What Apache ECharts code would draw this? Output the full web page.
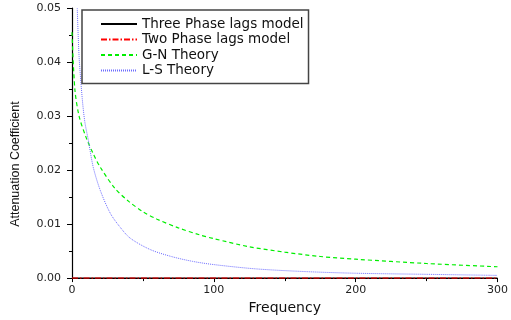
<!DOCTYPE html>
<html>
<head>
<meta charset="utf-8">
<script src="https://cdn.jsdelivr.net/npm/echarts@6/dist/echarts.min.js"></script>
<style>
  html, body { margin: 0; padding: 0; background: #fff; }
  #chart { width: 511px; height: 320px; }
</style>
</head>
<body>
<div id="chart"></div>
<script>
// values
const flatFreq = [0, 50, 100, 150, 200, 250, 300];
const threePhase = [0, 0, 0, 0, 0, 0, 0];
const twoPhase = [0, 0, 0, 0, 0, 0, 0];

const gnFreq = [0, 2, 5, 10, 15, 20, 30, 40, 50, 60, 75, 90, 100, 125, 150, 175, 200, 250, 300];
const gnValue = [0.0455, 0.035, 0.030, 0.026, 0.023, 0.0205, 0.0167, 0.0142, 0.0123, 0.0109,
  0.0093, 0.0080, 0.0073, 0.0058, 0.0048, 0.0040, 0.0035, 0.0027, 0.0021];

const lsFreq = [3.7, 5, 7.2, 9, 11.6, 15, 20, 27, 34, 41, 55, 70, 85, 100, 130, 165, 200, 250, 300];
const lsValue = [0.050, 0.041, 0.0333, 0.029, 0.0254, 0.0205, 0.0162, 0.0120, 0.0094, 0.0074,
  0.0053, 0.0040, 0.0031, 0.0025, 0.0017, 0.0012, 0.0009, 0.0007, 0.0005];

const xTicks = [0, 100, 200, 300];
const yTicks = [0, 0.01, 0.02, 0.03, 0.04, 0.05];

const zip = (xs, ys) => xs.map((x, i) => [x, ys[i]]);

const chart = echarts.init(document.getElementById('chart'));

const option = {
  animation: false,
  backgroundColor: '#fff',
  grid: { left: 72, right: 9, top: 8, bottom: 38 },
  legend: {
    orient: 'vertical',
    left: 82,
    top: 10,
    padding: [7, 5, 6, 18],
    itemWidth: 36,
    itemHeight: 14,
    itemGap: 1.5,
    borderColor: '#444',
    borderWidth: 1.5,
    itemStyle: { opacity: 0 },
    textStyle: { fontFamily: 'DejaVu Sans', fontSize: 13.5, color: '#111' },
    data: ['Three Phase lags model', 'Two Phase lags model', 'G-N Theory', 'L-S Theory']
  },
  xAxis: {
    type: 'value',
    min: xTicks[0],
    max: xTicks[xTicks.length - 1],
    interval: 100,
    name: 'Frequency',
    nameLocation: 'middle',
    nameGap: 15,
    nameTextStyle: { fontFamily: 'DejaVu Sans', fontSize: 14, color: '#111' },
    axisLine: { lineStyle: { color: '#000', width: 1.2 } },
    axisTick: { length: 4, lineStyle: { color: '#000' } },
    minorTick: { show: true, splitNumber: 2, length: 3, lineStyle: { color: '#000' } },
    splitLine: { show: false },
    axisLabel: { fontFamily: 'DejaVu Sans', fontSize: 11, color: '#222', margin: 7 }
  },
  yAxis: {
    type: 'value',
    min: yTicks[0],
    max: yTicks[yTicks.length - 1],
    interval: 0.01,
    name: 'Attenuation Coefficient',
    nameLocation: 'middle',
    nameGap: 50,
    nameTextStyle: { fontFamily: 'Liberation Sans', fontSize: 12.5, color: '#111', padding: [0, 42, 0, 0] },
    axisLine: { lineStyle: { color: '#000', width: 1.2 } },
    axisTick: { length: 5, lineStyle: { color: '#000' } },
    minorTick: { show: true, splitNumber: 2, length: 3, lineStyle: { color: '#000' } },
    splitLine: { show: false },
    axisLabel: {
      fontFamily: 'DejaVu Sans', fontSize: 11, color: '#222', margin: 11,
      formatter: v => v.toFixed(2)
    }
  },
  series: [
    {
      name: 'Three Phase lags model',
      type: 'line',
      symbol: 'none',
      data: zip(flatFreq, threePhase),
      lineStyle: { color: '#000', width: 1.2 },
      itemStyle: { color: '#555' }
    },
    {
      name: 'Two Phase lags model',
      type: 'line',
      symbol: 'none',
      data: zip(flatFreq, twoPhase),
      lineStyle: { color: '#ff0000', width: 1.2, type: [6, 2, 1.5, 2] },
      itemStyle: { color: '#ff0000' }
    },
    {
      name: 'G-N Theory',
      type: 'line',
      symbol: 'none',
      smooth: 0.3,
      data: zip(gnFreq, gnValue),
      lineStyle: { color: '#00ee00', width: 1.2, type: [4, 3] },
      itemStyle: { color: '#00ee00' }
    },
    {
      name: 'L-S Theory',
      type: 'line',
      symbol: 'none',
      smooth: 0.3,
      data: zip(lsFreq, lsValue),
      lineStyle: { color: '#6c6cff', width: 1, type: [1, 1] },
      itemStyle: { color: '#6c6cff' }
    }
  ]
};

chart.setOption(option);
</script>
</body>
</html>
